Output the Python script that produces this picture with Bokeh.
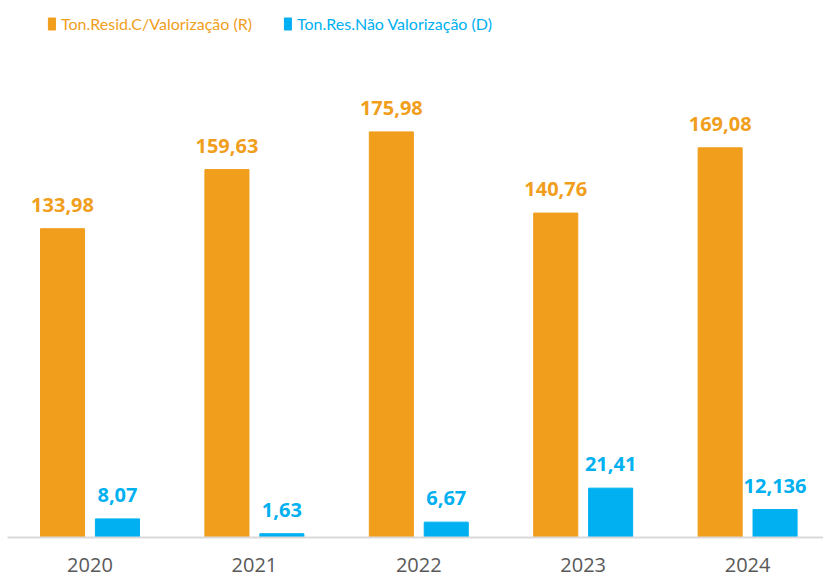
from bokeh.plotting import figure
from bokeh.models import Range1d, FixedTicker, Legend, LegendItem, ColumnDataSource
from bokeh.core.properties import value
from bokeh.embed import file_html
from bokeh.resources import INLINE

years = ["2020", "2021", "2022", "2023", "2024"]
valorizacao = [133.98, 159.63, 175.98, 140.76, 169.08]
nao_valorizacao = [8.07, 1.63, 6.67, 21.41, 12.136]
lab_r = ["133,98", "159,63", "175,98", "140,76", "169,08"]
lab_d = ["8,07", "1,63", "6,67", "21,41", "12,136"]

ORANGE = "#F09E1C"
BLUE = "#00B0F0"
idx = list(range(len(years)))
off = 0.167
bw = 0.268

src_r = ColumnDataSource(dict(x=[i - off for i in idx], y=valorizacao, t=lab_r))
src_d = ColumnDataSource(dict(x=[i + off for i in idx], y=nao_valorizacao, t=lab_d))

p = figure(width=823, height=578, output_backend="svg", toolbar_location=None,
           x_range=Range1d(-0.5018, 4.4617), y_range=Range1d(0, 233),
           min_border_left=7, min_border_right=0, min_border_top=0, min_border_bottom=41)
p.outline_line_color = None
p.grid.visible = False
p.yaxis.visible = False

r1 = p.vbar(x="x", top="y", width=bw, source=src_r, color=ORANGE)
r2 = p.vbar(x="x", top="y", width=bw, source=src_d, color=BLUE)

for src, col in ((src_r, ORANGE), (src_d, BLUE)):
    p.text(x="x", y="y", text="t", source=src, text_align="center", text_baseline="alphabetic",
           y_offset=-24, text_color=col, text_font=value("Open Sans"), text_font_style="bold",
           text_font_size="20px")

ax = p.xaxis[0]
ax.ticker = FixedTicker(ticks=idx)
ax.major_label_overrides = {i: y for i, y in zip(idx, years)}
ax.major_tick_line_color = None
ax.minor_tick_line_color = None
ax.axis_line_color = "#D9D9D9"
ax.axis_line_width = 2
ax.major_label_text_font = "Open Sans"
ax.major_label_text_font_size = "20px"
ax.major_label_text_color = "#595959"
ax.major_label_standoff = 14

for r, lbl, col, xloc in ((r1, "Ton.Resid.C/Valorização (R)", ORANGE, 40),
                          (r2, "Ton.Res.Não Valorização (D)", BLUE, 276)):
    lg = Legend(items=[LegendItem(label=lbl, renderers=[r])], location=(xloc, 504),
                orientation="horizontal", padding=0, margin=0, border_line_color=None,
                background_fill_alpha=0, glyph_width=9, glyph_height=15, label_standoff=5,
                label_text_font="Lato", label_text_font_size="16px",
                label_text_color=col, label_height=20)
    p.add_layout(lg)

open("out.html", "w").write(file_html(p, INLINE))
